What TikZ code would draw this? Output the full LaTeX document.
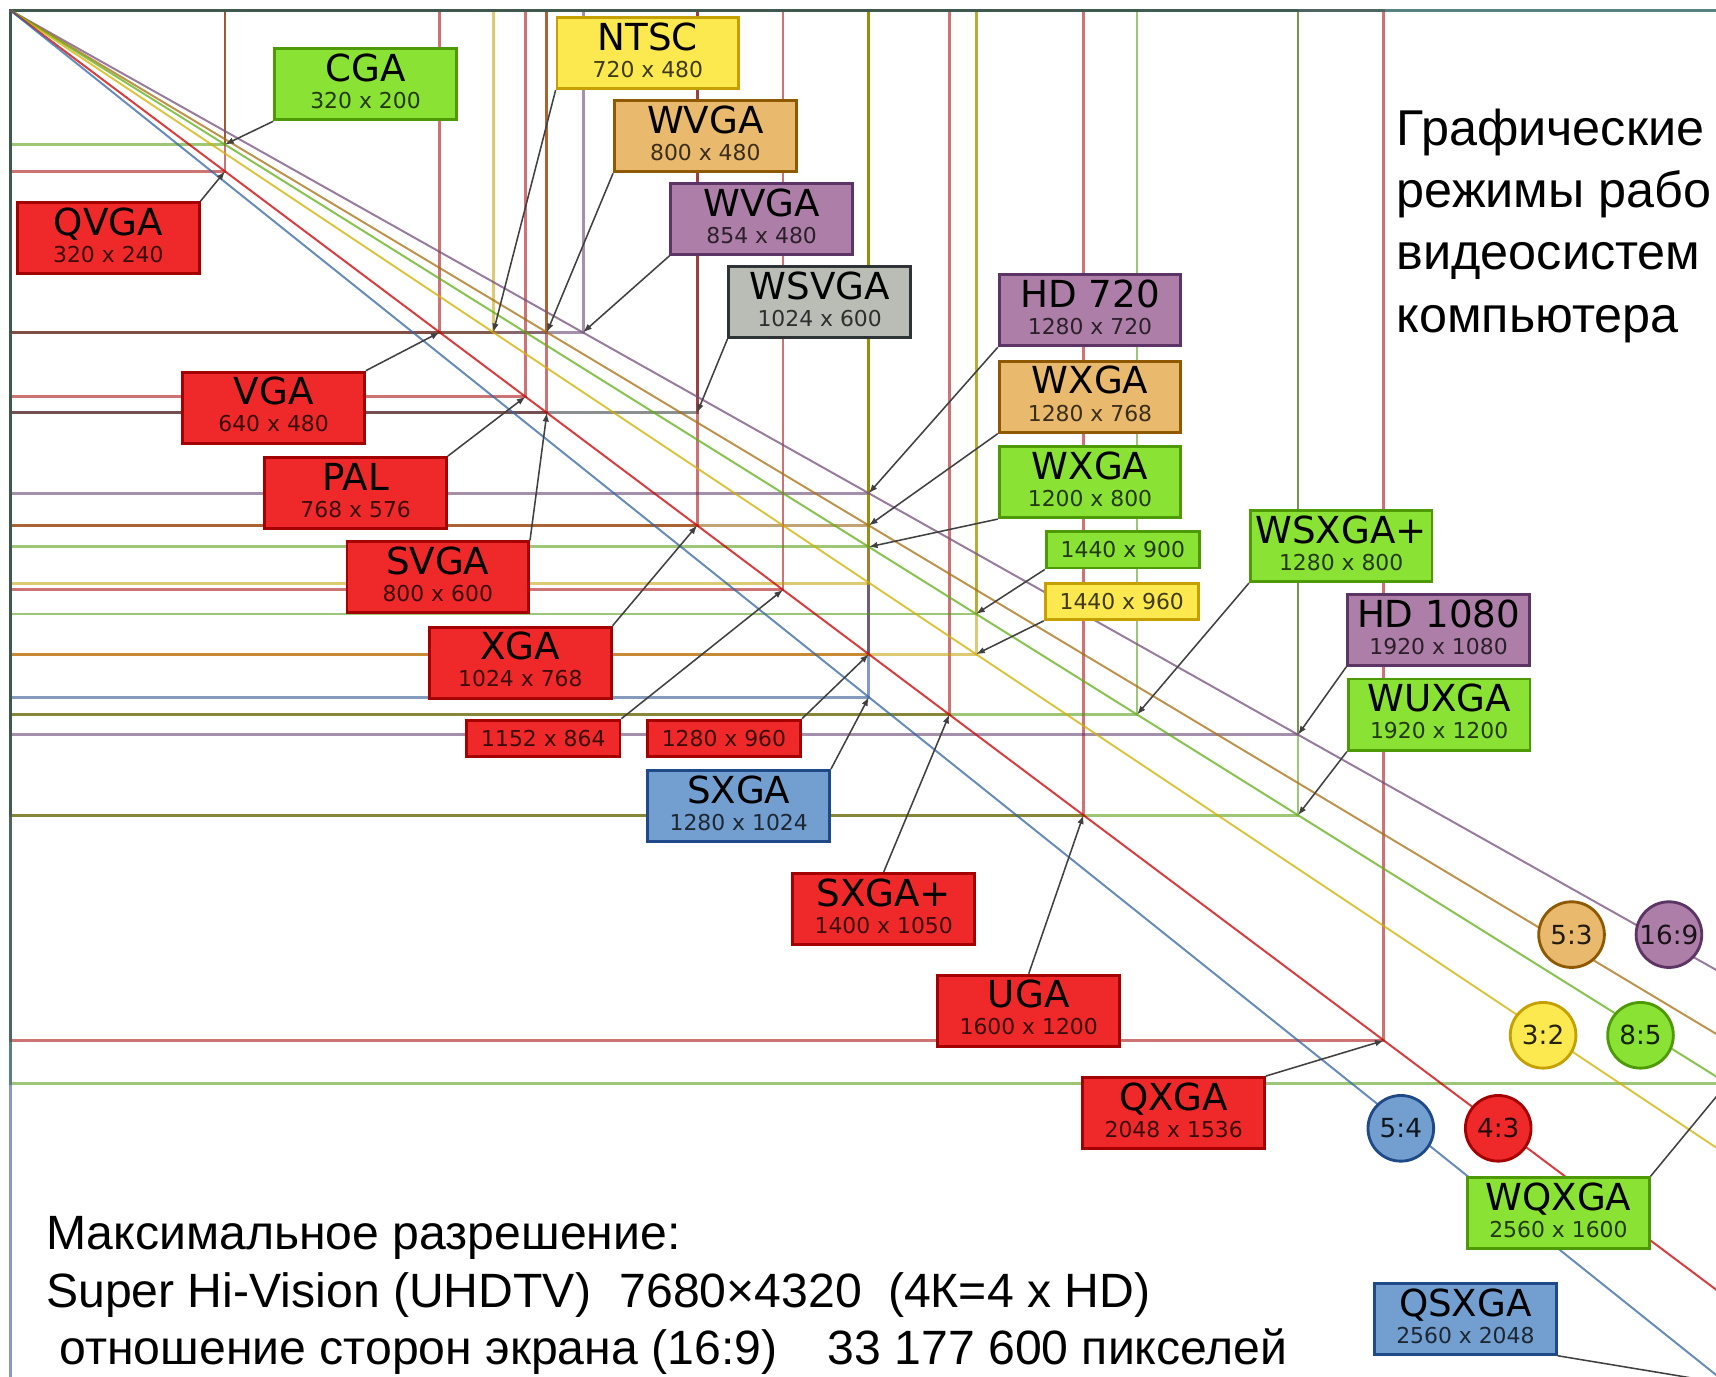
\documentclass[tikz,border=0pt]{standalone}
\usepackage{fontspec}
\setmainfont{Liberation Sans}
\newfontfamily\dvs{DejaVu Sans}
\usetikzlibrary{arrows.meta}
\definecolor{redF}{HTML}{EF2929}\definecolor{redD}{HTML}{A40000}\definecolor{redM}{HTML}{CC0000}
\definecolor{greenF}{HTML}{8AE234}\definecolor{greenD}{HTML}{4E9A06}\definecolor{greenM}{HTML}{5FAE14}
\definecolor{yellowF}{HTML}{FCE94F}\definecolor{yellowD}{HTML}{C4A000}\definecolor{yellowM}{HTML}{D4B000}
\definecolor{orangeF}{HTML}{E9B96E}\definecolor{orangeD}{HTML}{8F5902}\definecolor{orangeM}{HTML}{A8700F}
\definecolor{purpleF}{HTML}{AD7FA8}\definecolor{purpleD}{HTML}{5C3566}\definecolor{purpleM}{HTML}{75507B}
\definecolor{blueF}{HTML}{729FCF}\definecolor{blueD}{HTML}{204A87}\definecolor{blueM}{HTML}{3465A4}
\definecolor{grayF}{HTML}{BABDB6}\definecolor{grayD}{HTML}{2E3436}\definecolor{grayM}{HTML}{555753}
\tikzset{
  box/.style={draw=#1D, fill=#1F, line width=2.6pt, minimum width=166pt, minimum height=65pt, inner sep=0pt},
  sbox/.style={draw=#1D, fill=#1F, line width=2.6pt, minimum width=140pt, minimum height=33pt, inner sep=0pt,
    font=\dvs\fontsize{20}{20}\selectfont, text opacity=0.75},
  ttl/.style={font=\dvs\fontsize{34}{34}\selectfont, inner sep=0pt, anchor=base},
  subt/.style={font=\dvs\fontsize{20}{20}\selectfont, inner sep=0pt, anchor=base, text opacity=0.75},
  res/.style={line width=2.6pt, draw=#1D, draw opacity=0.55},
  diag/.style={line width=1.8pt, draw=#1M, draw opacity=0.75},
  ptr/.style={line width=1.4pt, draw=black!75, -{Latex[length=8pt,width=6pt]}},
  ratio/.style={circle, draw=#1D, fill=#1F, line width=2.6pt, minimum size=60pt, inner sep=0pt,
    font=\dvs\fontsize{24}{24}\selectfont, text opacity=0.85},
  bigtxt/.style={font=\fontsize{44}{44}\selectfont, inner sep=0pt, anchor=base west},
  headtxt/.style={font=\fontsize{46}{46}\selectfont, inner sep=0pt, anchor=base west},
}
\newcommand\stdlab[6]{%
  \node[box=#2] (#1) at (#3,#4) {};
  \node[ttl] (#1t) at ([yshift=-31.3pt]#1.north) {#5};
  \node[subt] (#1s) at ([yshift=-56pt]#1.north) {#6};
}
\begin{document}
\begin{tikzpicture}[x=1pt,y=-1pt]
\useasboundingbox (0,0) rectangle (1568,1258);
\fill[white] (0,0) rectangle (1568,1258);
\clip (0,0) rectangle (1568,1258);

\begin{scope}[shift={(9.5,9.5)},x=0.6128pt,y=-0.6128pt]
  \draw[res=green] (0,0) rectangle (320,200);
  \draw[res=red] (0,0) rectangle (320,240);
  \draw[res=red] (0,0) rectangle (640,480);
  \draw[res=yellow] (0,0) rectangle (720,480);
  \draw[res=red] (0,0) rectangle (768,576);
  \draw[res=red] (0,0) rectangle (800,600);
  \draw[res=orange] (0,0) rectangle (800,480);
  \draw[res=purple] (0,0) rectangle (854,480);
  \draw[res=gray] (0,0) rectangle (1024,600);
  \draw[res=red] (0,0) rectangle (1024,768);
  \draw[res=red] (0,0) rectangle (1152,864);
  \draw[res=red] (0,0) rectangle (1280,960);
  \draw[res=blue] (0,0) rectangle (1280,1024);
  \draw[res=purple] (0,0) rectangle (1280,720);
  \draw[res=orange] (0,0) rectangle (1280,768);
  \draw[res=green] (0,0) rectangle (1280,800);
  \draw[res=yellow] (0,0) rectangle (1280,854);
  \draw[res=red] (0,0) rectangle (1400,1050);
  \draw[res=green] (0,0) rectangle (1440,900);
  \draw[res=yellow] (0,0) rectangle (1440,960);
  \draw[res=red] (0,0) rectangle (1600,1200);
  \draw[res=green] (0,0) rectangle (1680,1050);
  \draw[res=purple] (0,0) rectangle (1920,1080);
  \draw[res=green] (0,0) rectangle (1920,1200);
  \draw[res=red] (0,0) rectangle (2048,1536);
  \draw[res=green] (0,0) rectangle (2560,1600);
  \draw[res=blue] (0,0) rectangle (2560,2048);
  % corners
  \coordinate (cCGA) at (320,200);
  \coordinate (cQVGA) at (320,240);
  \coordinate (cVGA) at (640,480);
  \coordinate (cNTSC) at (720,480);
  \coordinate (cPAL) at (768,576);
  \coordinate (cSVGA) at (800,600);
  \coordinate (cWVGAa) at (800,480);
  \coordinate (cWVGAb) at (854,480);
  \coordinate (cWSVGA) at (1024,600);
  \coordinate (cXGA) at (1024,768);
  \coordinate (cA) at (1152,864);
  \coordinate (cB) at (1280,960);
  \coordinate (cSXGA) at (1280,1024);
  \coordinate (cHDsev) at (1280,720);
  \coordinate (cWXGAa) at (1280,768);
  \coordinate (cWXGAb) at (1280,800);
  \coordinate (cSXGAp) at (1400,1050);
  \coordinate (cC) at (1440,900);
  \coordinate (cD) at (1440,960);
  \coordinate (cUGA) at (1600,1200);
  \coordinate (cWSXGAp) at (1680,1050);
  \coordinate (cHDten) at (1920,1080);
  \coordinate (cWUXGA) at (1920,1200);
  \coordinate (cQXGA) at (2048,1536);
  \coordinate (cWQXGA) at (2560,1600);
  \coordinate (cQSXGA) at (2560,2048);
  \coordinate (org) at (0,0);
  \coordinate (e169) at (4000,2250);
  \coordinate (e53) at (4000,2400);
  \coordinate (e85) at (4000,2500);
  \coordinate (e32) at (4000,2666.7);
  \coordinate (e43) at (4000,3000);
  \coordinate (e54) at (4000,3200);
\end{scope}

% diagonals
\draw[diag=purple] (org) -- (e169);
\draw[diag=orange] (org) -- (e53);
\draw[diag=green] (org) -- (e85);
\draw[diag=yellow] (org) -- (e32);
\draw[diag=red] (org) -- (e43);
\draw[diag=blue] (org) -- (e54);

% labelled boxes
\stdlab{CGA}{green}{334}{77}{CGA}{320 x 200}
\stdlab{QVGA}{red}{99}{217.5}{QVGA}{320 x 240}
\stdlab{NTSC}{yellow}{592}{48.5}{NTSC}{720 x 480}
\stdlab{WVGAa}{orange}{644.5}{124.5}{WVGA}{800 x 480}
\stdlab{WVGAb}{purple}{696}{200}{WVGA}{854 x 480}
\stdlab{WSVGA}{gray}{749}{276}{WSVGA}{1024 x 600}
\stdlab{VGA}{red}{250}{372.5}{VGA}{640 x 480}
\stdlab{PAL}{red}{325}{450.5}{PAL}{768 x 576}
\stdlab{SVGA}{red}{400}{527.5}{SVGA}{800 x 600}
\stdlab{XGA}{red}{475.5}{605.5}{XGA}{1024 x 768}
\stdlab{SXGA}{blue}{675}{736.5}{SXGA}{1280 x 1024}
\stdlab{SXGAp}{red}{807.5}{830.5}{SXGA+}{1400 x 1050}
\stdlab{UGA}{red}{940}{923.5}{UGA}{1600 x 1200}
\stdlab{QXGA}{red}{1072.5}{1017}{QXGA}{2048 x 1536}
\stdlab{HDsev}{purple}{996}{283.5}{HD 720}{1280 x 720}
\stdlab{WXGAa}{orange}{996}{362.5}{WXGA}{1280 x 768}
\stdlab{WXGAb}{green}{996}{440.5}{WXGA}{1200 x 800}
\stdlab{WSXGAp}{green}{1225.5}{499}{WSXGA+}{1280 x 800}
\stdlab{HDten}{purple}{1314.5}{575.5}{HD 1080}{1920 x 1080}
\stdlab{WUXGA}{green}{1315}{653}{WUXGA}{1920 x 1200}
\stdlab{WQXGA}{green}{1424}{1108.5}{WQXGA}{2560 x 1600}
\stdlab{QSXGA}{blue}{1339}{1205}{QSXGA}{2560 x 2048}
\node[sbox=red] (A) at (496.5,674.5) {1152 x 864};
\node[sbox=red] (B) at (661.5,674.5) {1280 x 960};
\node[sbox=green] (C) at (1026,502.5) {1440 x 900};
\node[sbox=yellow] (D) at (1025,549.5) {1440 x 960};

% pointers
\draw[ptr] (CGA.south west) -- (cCGA);
\draw[ptr] (QVGA.north east) -- (cQVGA);
\draw[ptr] (NTSC.south west) -- (cNTSC);
\draw[ptr] (WVGAa.south west) -- (cWVGAa);
\draw[ptr] (WVGAb.south west) -- (cWVGAb);
\draw[ptr] (WSVGA.south west) -- (cWSVGA);
\draw[ptr] (VGA.north east) -- (cVGA);
\draw[ptr] (PAL.north east) -- (cPAL);
\draw[ptr] (SVGA.north east) -- (cSVGA);
\draw[ptr] (XGA.north east) -- (cXGA);
\draw[ptr] (A.north east) -- (cA);
\draw[ptr] (B.north east) -- (cB);
\draw[ptr] (SXGA.north east) -- (cSXGA);
\draw[ptr] (SXGAp.north) -- (cSXGAp);
\draw[ptr] (UGA.north) -- (cUGA);
\draw[ptr] (QXGA.north east) -- (cQXGA);
\draw[ptr] (HDsev.south west) -- (cHDsev);
\draw[ptr] (WXGAa.south west) -- (cWXGAa);
\draw[ptr] (WXGAb.south west) -- (cWXGAb);
\draw[ptr] (C.south west) -- (cC);
\draw[ptr] (D.south west) -- (cD);
\draw[ptr] (WSXGAp.south west) -- (cWSXGAp);
\draw[ptr] (HDten.south west) -- (cHDten);
\draw[ptr] (WUXGA.south west) -- (cWUXGA);
\draw[ptr] (WQXGA.north east) -- (cWQXGA);
\draw[ptr] (QSXGA.south east) -- (cQSXGA);

% aspect ratio circles
\node[ratio=orange] (r53) at (1436,854) {5:3};
\node[ratio=purple] (r169) at (1525,854) {16:9};
\node[ratio=yellow] (r32) at (1410,946) {3:2};
\node[ratio=green] (r85) at (1499,946) {8:5};
\node[ratio=blue] (r54) at (1280,1031) {5:4};
\node[ratio=red] (r43) at (1369,1031) {4:3};

% texts
\node[headtxt] (h1) at (1276,132.5) {Графические};
\node[headtxt] (h2) at (1276,189.5) {режимы рабо};
\node[headtxt] (h3) at (1276,246.5) {видеосистем};
\node[headtxt] (h4) at (1276,303.5) {компьютера};
\node[bigtxt] (b1) at (42,1142) {Максимальное разрешение:};
\node[bigtxt] (b2) at (42,1195) {Super Hi-Vision (UHDTV)\hspace{26pt}7680×4320\hspace{24pt}(4К=4 x HD)};
\node[bigtxt] (b3) at (42,1247) {\ отношение сторон экрана (16:9)\hspace{46pt}33 177 600 пикселей};
\end{tikzpicture}
\end{document}
